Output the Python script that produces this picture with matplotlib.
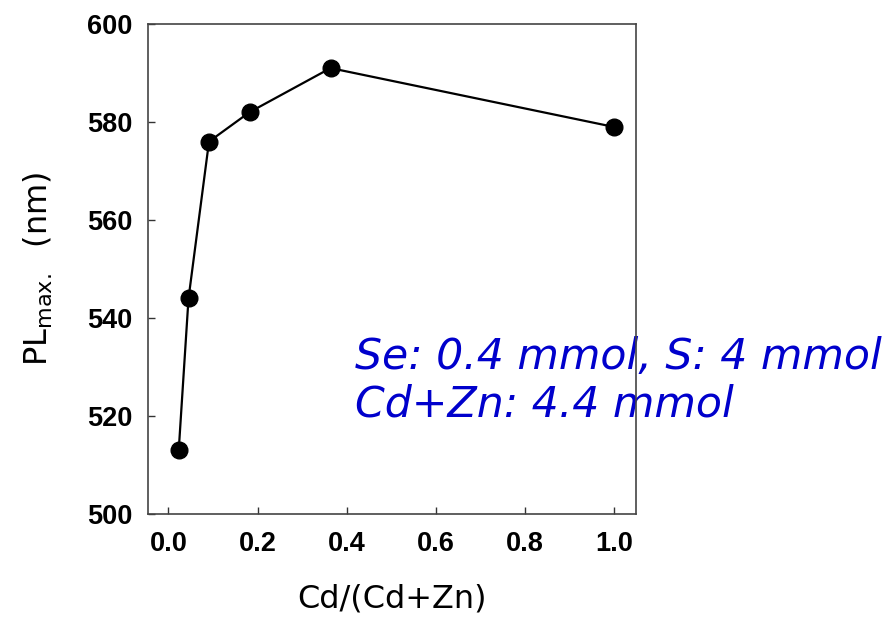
import matplotlib
matplotlib.use("Agg")
import matplotlib.pyplot as plt
from matplotlib.font_manager import FontProperties

# Cd fraction in the Cd/Zn precursor and the corresponding PL peak position
cd_fraction = [0.023, 0.045, 0.091, 0.182, 0.364, 1.0]
pl_max_nm = [513, 544, 576, 582, 591, 579]

x_ticks = [0.0, 0.2, 0.4, 0.6, 0.8, 1.0]
y_ticks = [500, 520, 540, 560, 580, 600]

note_lines = ["Se: 0.4 mmol, S: 4 mmol", "Cd+Zn: 4.4 mmol"]

fig = plt.figure(figsize=(8.88, 6.19), dpi=100)
ax = fig.add_axes([148 / 888, 1 - 514 / 619, (636 - 148) / 888, (514 - 24) / 619])

ax.plot(cd_fraction, pl_max_nm, color="black", linewidth=1.6,
        marker="o", markersize=12, markerfacecolor="black",
        markeredgecolor="black", zorder=3)

ax.set_xlim(-0.046, 1.05)
ax.set_ylim(500, 600)
ax.set_xticks(x_ticks)
ax.set_yticks(y_ticks)
ax.set_xticklabels([f"{v:.1f}" for v in x_ticks])
ax.set_yticklabels([str(v) for v in y_ticks])

tick_font = FontProperties(family="Liberation Sans", weight="bold", size=19.5)
for lab in ax.get_xticklabels() + ax.get_yticklabels():
    lab.set_fontproperties(tick_font)

ax.tick_params(axis="both", direction="in", length=5, width=1.0,
               color="#333333", top=False, right=False)
ax.tick_params(axis="x", pad=12)
ax.tick_params(axis="y", pad=11)

for side in ["left", "right", "top", "bottom"]:
    ax.spines[side].set_color("#444444")
    ax.spines[side].set_linewidth(1.2)

ax.set_xlabel("Cd/(Cd+Zn)", family="DejaVu Sans", fontsize=23, labelpad=19)
ax.set_ylabel(r"PL$_{\mathregular{max.}}$  (nm)", family="DejaVu Sans",
              fontsize=23, labelpad=23)

ax.text(0.424, 0.364, "\n".join(note_lines), transform=ax.transAxes,
        ha="left", va="top", fontsize=30.7, style="italic",
        family="DejaVu Sans", color="#0000CC", linespacing=1.17,
        clip_on=False, zorder=2)

fig.savefig("out.png", dpi=100)
